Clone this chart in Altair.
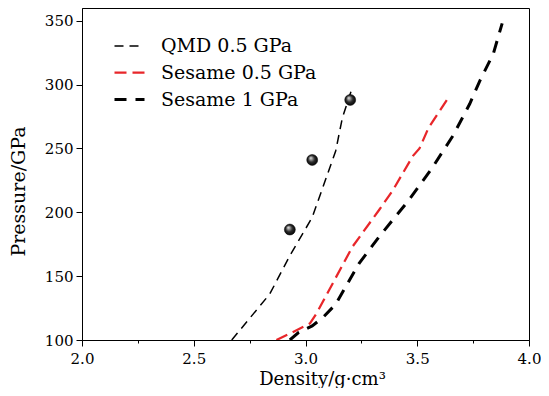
import altair as alt
import pandas as pd

# ---- data ----
qmd_density = [2.67, 2.84, 2.93, 3.03, 3.135, 3.165, 3.21]
qmd_pressure = [100, 136, 166, 196, 248, 274, 298]

s05_density = [2.87, 2.93, 3.02, 3.05, 3.21, 3.33, 3.39, 3.48, 3.51, 3.55, 3.64]
s05_pressure = [100, 105, 113, 121, 173, 202, 217, 244, 250, 266, 290]

s1_density = [2.93, 2.97, 3.03, 3.08, 3.135, 3.24, 3.33, 3.46, 3.56, 3.66, 3.735, 3.78, 3.84, 3.88]
s1_pressure = [100, 106, 111, 118, 128, 160, 181, 209, 233, 260, 285, 303, 324, 348]

dot_density = [2.93, 3.03, 3.20]
dot_pressure = [186.5, 241, 288]

series_names = ["QMD 0.5 GPa", "Sesame 0.5 GPa", "Sesame 1 GPa"]
series_colors = ["#000000", "#e8262a", "#000000"]
series_widths = [1.5, 3, 3]
series_dashes = [[9, 6], [12, 6], [12, 9]]

x_ticks = [2.0 + 0.25 * i for i in range(9)]
y_ticks = [100 + 25 * i for i in range(11)]

rows = []
for name, xs, ys in zip(series_names,
                        [qmd_density, s05_density, s1_density],
                        [qmd_pressure, s05_pressure, s1_pressure]):
    for i, (x, y) in enumerate(zip(xs, ys)):
        rows.append({"series": name, "density": x, "pressure": y, "order": i})
lines_df = pd.DataFrame(rows)
dots_df = pd.DataFrame({"density": dot_density, "pressure": dot_pressure})

FONT = "DejaVu Serif"

x_scale = alt.Scale(domain=[2.0, 4.0], nice=False, zero=False)
y_scale = alt.Scale(domain=[100, 360], nice=False, zero=False)

x_axis = alt.Axis(
    values=x_ticks, format=".1f",
    labelExpr="datum.value % 0.5 === 0 ? datum.label : ''",
    tickSize={"condition": {"test": "datum.value % 0.5 === 0", "value": 6}, "value": 3},
    grid=False, labelFlush=False, labelOverlap=False, labelOffset=0,
    labelFont=FONT, labelFontSize=15, labelColor="black", labelPadding=5,
    titleFont=FONT, titleFontSize=18, titleFontWeight="normal", titleColor="black",
    titleX=240, titleY=44, titleBaseline="alphabetic",
    domainColor="black", tickColor="black",
)
y_axis = alt.Axis(
    values=y_ticks,
    labelExpr="datum.value % 50 === 0 ? datum.label : ''",
    tickSize={"condition": {"test": "datum.value % 50 === 0", "value": 6}, "value": 3},
    grid=False, labelFlush=False, labelOverlap=False,
    labelFont=FONT, labelFontSize=15, labelColor="black", labelPadding=3,
    titleFont=FONT, titleFontSize=19, titleFontWeight="normal", titleColor="black",
    titleY=183, titlePadding=16,
    domainColor="black", tickColor="black",
)

legend = alt.Legend(
    orient="none", legendX=31, legendY=22, symbolType="stroke", symbolSize=900,
    labelFont=FONT, labelFontSize=19, labelColor="black", labelOffset=15,
    rowPadding=0, title=None,
)

lines = alt.Chart(lines_df).mark_line(clip=True).encode(
    x=alt.X("density:Q", scale=x_scale, axis=x_axis, title="Density/g·cm³"),
    y=alt.Y("pressure:Q", scale=y_scale, axis=y_axis, title="Pressure/GPa"),
    color=alt.Color("series:N", scale=alt.Scale(domain=series_names, range=series_colors),
                    legend=legend, title=None),
    strokeWidth=alt.StrokeWidth("series:N", scale=alt.Scale(domain=series_names, range=series_widths),
                                legend=legend, title=None),
    strokeDash=alt.StrokeDash("series:N", scale=alt.Scale(domain=series_names, range=series_dashes),
                              legend=legend, title=None),
    order="order:Q",
)

sphere = alt.RadialGradient(
    gradient="radial",
    stops=[alt.GradientStop(color="#f2f2f2", offset=0),
           alt.GradientStop(color="#2a2a2a", offset=0.55),
           alt.GradientStop(color="#000000", offset=1)],
    x1=0.35, y1=0.3, r1=0, x2=0.5, y2=0.5, r2=0.55,
)
dots = alt.Chart(dots_df).mark_circle(size=120, opacity=1, fill=sphere, stroke="black", strokeWidth=0.5).encode(
    x=alt.X("density:Q", scale=x_scale),
    y=alt.Y("pressure:Q", scale=y_scale),
)

chart = alt.layer(lines, dots).properties(
    width=447, height=332,
    autosize=alt.AutoSizeParams(type="none"),
    padding={"left": 74, "top": 0, "right": 12, "bottom": 48},
    background="white",
).configure_view(stroke="black", strokeWidth=1)

chart.save("out.html", embed_options={"renderer": "svg", "actions": False})
